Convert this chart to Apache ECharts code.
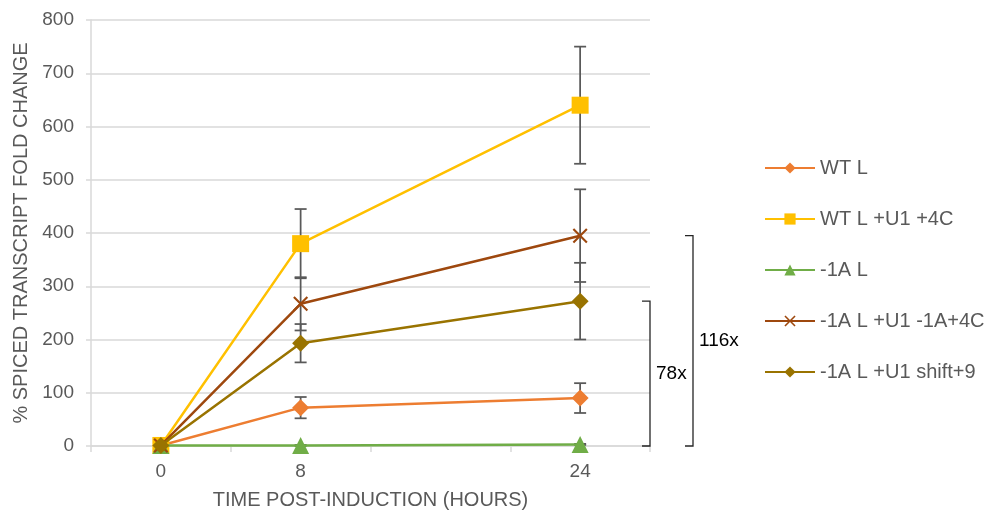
<!DOCTYPE html>
<html>
<head>
<meta charset="utf-8">
<script src="https://cdn.jsdelivr.net/npm/echarts@6/dist/echarts.min.js"></script>
<style>
  html, body { margin: 0; padding: 0; background: #fff; }
  #chart { width: 992px; height: 514px; }
</style>
</head>
<body>
<div id="chart"></div>
<script>
// Sampling times (hours) and tick positions
const hours = [0, 8, 24];
const xTicks = [-4, 4, 12, 20, 28];

// Series names and mean fold change at each time point
const seriesNames = ['WT L', 'WT L +U1 +4C', '-1A L', '-1A L +U1 -1A+4C', '-1A L +U1 shift+9'];
const wtL = [1, 72, 90];
const wtLU1 = [1, 380, 640];
const minus1AL = [1, 1, 3];
const minus1AU1 = [1, 267, 395];
const minus1AShift = [1, 193, 272];

// Error bar half-widths (±) per time point
const wtLErr = [0, 20, 28];
const wtLU1Err = [0, 65, 110];
const minus1ALErr = [0, 1, 1];
const minus1AU1Err = [0, 50, 87];
const minus1AShiftErr = [0, 36, 72];

// Fold-change annotations at 24 h
const bracketLabels = ['78x', '116x'];

const colors = ['#ED7D31', '#FFC000', '#70AD47', '#9E480E', '#997300'];
const symbols = [
  'diamond',
  'rect',
  'triangle',
  'path://M1,0L5,4L9,0L10,1L6,5L10,9L9,10L5,6L1,10L0,9L4,5L0,1Z',
  'diamond'
];
const symbolSizes = [17, 17, 17, 15, 17];
const means = [wtL, wtLU1, minus1AL, minus1AU1, minus1AShift];
const errs = [wtLErr, wtLU1Err, minus1ALErr, minus1AU1Err, minus1AShiftErr];

const font = '"Liberation Sans", Arial, sans-serif';
const textGray = '#595959';
const fs = 19;
const fsTitle = 20;

const lineSeries = seriesNames.map((name, i) => ({
  name: name,
  type: 'line',
  data: hours.map((h, j) => [h, means[i][j]]),
  symbol: symbols[i],
  symbolSize: symbolSizes[i],
  color: colors[i],
  lineStyle: { width: 2.5, color: colors[i] },
  itemStyle: { color: colors[i] },
  z: 3 + i,
  animation: false
}));

// Error bars: vertical whisker with caps, one item per point
const errorSeries = {
  type: 'custom',
  name: 'errors',
  z: 2,
  silent: true,
  animation: false,
  data: (function () {
    const out = [];
    means.forEach((m, i) => {
      hours.forEach((h, j) => {
        if (errs[i][j] > 0) out.push([h, m[j], errs[i][j]]);
      });
    });
    return out;
  })(),
  encode: { x: 0, y: 1 },
  renderItem: function (params, api) {
    const x = api.value(0), y = api.value(1), e = api.value(2);
    const hi = api.coord([x, y + e]);
    const lo = api.coord([x, y - e]);
    const cap = 6;
    const style = { stroke: '#595959', lineWidth: 1.75, fill: null };
    return {
      type: 'group',
      children: [
        { type: 'line', shape: { x1: hi[0], y1: hi[1], x2: lo[0], y2: lo[1] }, style: style },
        { type: 'line', shape: { x1: hi[0] - cap, y1: hi[1], x2: hi[0] + cap, y2: hi[1] }, style: style },
        { type: 'line', shape: { x1: lo[0] - cap, y1: lo[1], x2: lo[0] + cap, y2: lo[1] }, style: style }
      ]
    };
  }
};

// Brackets spanning from zero up to the 24 h means of the two -1A L +U1 series
const bracketSeries = {
  type: 'custom',
  name: 'brackets',
  clip: false,
  silent: true,
  animation: false,
  z: 1,
  data: [
    [xTicks[xTicks.length - 1], minus1AShift[2], 0],
    [xTicks[xTicks.length - 1], minus1AU1[2], 1]
  ],
  encode: { x: 0, y: 1 },
  renderItem: function (params, api) {
    const x = api.value(0), top = api.value(1), idx = api.value(2);
    const pTop = api.coord([x, top]);
    const pBot = api.coord([x, 0]);
    const dx = idx === 0 ? 0 : 43;
    const vx = pTop[0] + dx;
    const arm = 8;
    const style = { stroke: '#262626', lineWidth: 1.3, fill: null };
    return {
      type: 'group',
      children: [
        { type: 'polyline', shape: { points: [[vx - arm, pTop[1]], [vx, pTop[1]], [vx, pBot[1]], [vx - arm, pBot[1]]] }, style: style },
        {
          type: 'text',
          style: {
            text: bracketLabels[idx],
            x: vx + 6,
            y: (pTop[1] + pBot[1]) / 2,
            textVerticalAlign: 'middle',
            textAlign: 'left',
            font: fs + 'px ' + font,
            fill: '#000'
          }
        }
      ]
    };
  }
};

const chart = echarts.init(document.getElementById('chart'), null, { renderer: 'canvas' });
chart.setOption({
  backgroundColor: '#fff',
  animation: false,
  textStyle: { fontFamily: font },
  grid: { left: 91, right: 342, top: 20, bottom: 68, containLabel: false, outerBoundsMode: 'none' },
  legend: {
    orient: 'vertical',
    left: 764,
    top: 158,
    padding: 0,
    itemWidth: 50,
    itemHeight: 14,
    itemGap: 31,
    data: seriesNames,
    textStyle: { fontSize: fsTitle, lineHeight: 20, color: textGray, fontFamily: font },
    selectedMode: false
  },
  xAxis: {
    type: 'value',
    min: -4,
    max: 28,
    name: 'TIME POST-INDUCTION (HOURS)',
    nameLocation: 'middle',
    nameGap: 44,
    nameTextStyle: { fontSize: fsTitle, color: textGray, fontFamily: font },
    axisLine: { show: true, onZero: false, lineStyle: { color: '#d9d9d9', width: 1.5 } },
    axisTick: { show: true, length: 6, customValues: xTicks, lineStyle: { color: '#d9d9d9', width: 1.5 } },
    axisLabel: { customValues: hours, fontSize: fs, color: textGray, margin: 16, fontFamily: font },
    splitLine: { show: false }
  },
  yAxis: {
    type: 'value',
    min: 0,
    max: 800,
    interval: 100,
    name: '% SPICED TRANSCRIPT FOLD CHANGE',
    nameLocation: 'middle',
    nameGap: 60,
    nameRotate: 90,
    nameTextStyle: { fontSize: fsTitle, color: textGray, fontFamily: font },
    axisLine: { show: true, onZero: false, lineStyle: { color: '#d9d9d9', width: 1.5 } },
    axisTick: { show: true, length: 5, lineStyle: { color: '#d9d9d9', width: 1.5 } },
    axisLabel: { fontSize: fs, color: textGray, margin: 17, fontFamily: font },
    splitLine: { show: true, lineStyle: { color: '#d9d9d9', width: 1.5 } }
  },
  series: [errorSeries].concat(lineSeries).concat([bracketSeries])
});
</script>
</body>
</html>
